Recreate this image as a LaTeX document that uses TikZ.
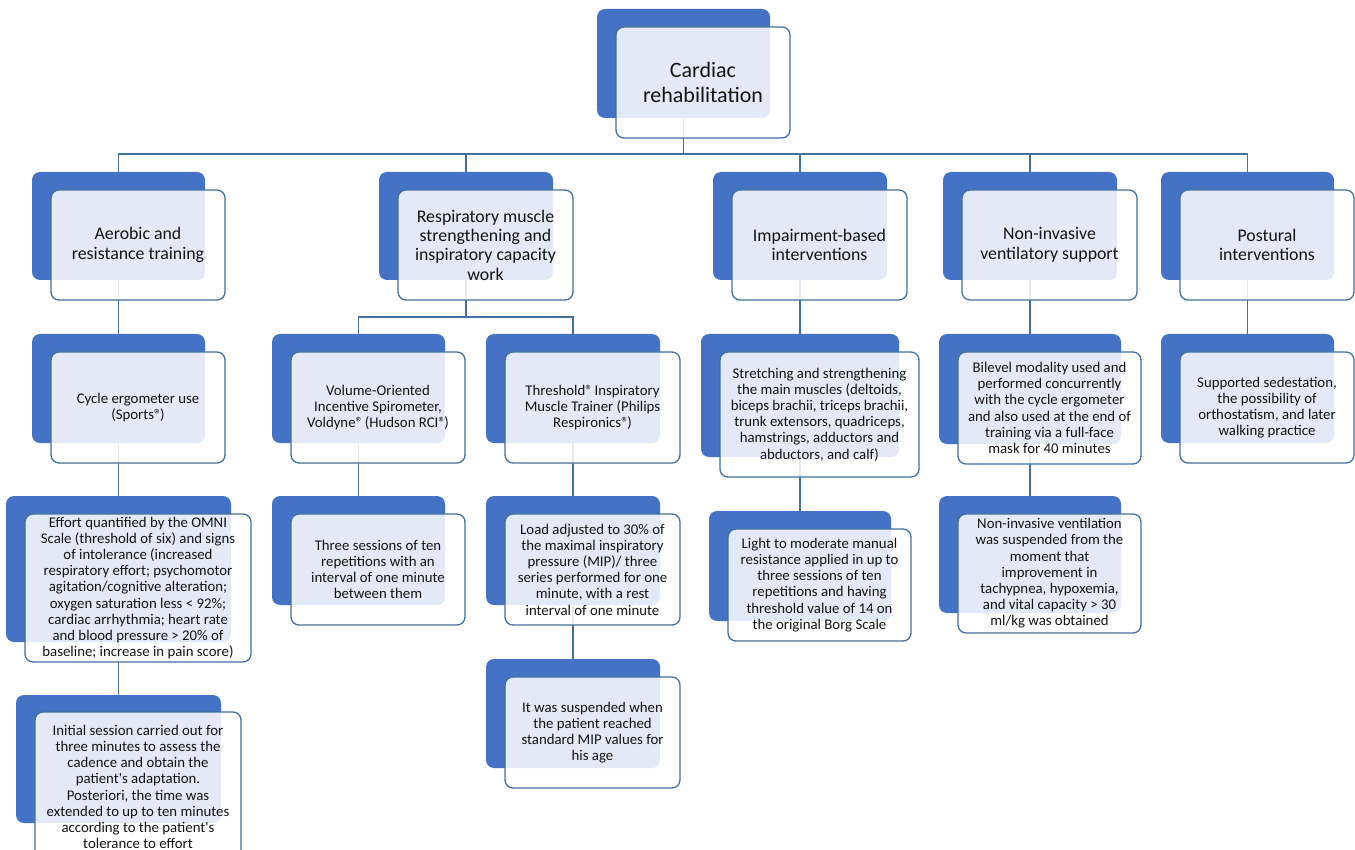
\documentclass[tikz,border=0pt]{standalone}
\usepackage{fontspec}
\setmainfont{Carlito}
\usetikzlibrary{calc}
\pgfdeclarelayer{background}
\pgfsetlayers{background,main}
\definecolor{backblue}{RGB}{68,114,196}
\definecolor{edgeblue}{RGB}{65,113,156}
\definecolor{txt}{RGB}{20,20,20}
\newcommand{\regd}{®\kern-1.5pt}
\tikzset{
  backbox/.style={rectangle, rounded corners=8pt, fill=backblue, draw=none, inner sep=0pt, outer sep=0pt},
  frontbox/.style={rectangle, rounded corners=8pt, draw=edgeblue, line width=1.3pt, fill=white, fill opacity=0.85, text opacity=1, text=txt, align=center, inner sep=1pt, outer sep=0pt},
  conn/.style={draw=edgeblue, line width=1.3pt},
  fbig/.style={font=\fontsize{22}{25.3}\selectfont},
  fmid/.style={font=\fontsize{17.8}{19.4}\selectfont},
  fsmall/.style={font=\fontsize{14.8}{16.2}\selectfont}
}
% [#1 extra front opts], #2 name, #3 bx1, #4 by1, #5 bx2, #6 by2, #7 font style, #8 text
\newcommand{\mkbox}[8][]{%
  \node[backbox, minimum width={#5-#3}, minimum height={#6-#4}] (#2b) at ({(#3+#5)/2},{(#4+#6)/2}) {};
  \node[frontbox, #7, minimum width={#5-#3+1}, minimum height={#6-#4+2}, #1] (#2) at ({(#3+#5)/2+19.5},{(#4+#6)/2+19}) {#8};
}
\begin{document}
\begin{tikzpicture}[x=1pt,y=-1pt]
\useasboundingbox (0,0) rectangle (1355,850);

% root
\mkbox{root}{597}{9}{770}{118}{fbig}{Cardiac\\rehabilitation}
% level 1
\mkbox{A1}{32}{172}{205}{280}{fmid}{Aerobic and\\resistance training}
\mkbox{A2}{379}{172}{553}{280}{fmid}{Respiratory muscle\\strengthening and\\inspiratory capacity\\work}
\mkbox{A3}{713}{172}{887}{280}{fmid}{Impairment-based\\interventions}
\mkbox{A4}{943}{172}{1117}{280}{fmid}{Non-invasive\\ventilatory support}
\mkbox{A5}{1161}{172}{1334}{280}{fmid}{Postural\\interventions}
% level 2
\mkbox{B1}{32}{334}{205}{443}{fsmall}{Cycle ergometer use\\(Sports\regd)}
\mkbox{B2}{272}{334}{445}{443}{fsmall}{Volume-Oriented\\Incentive Spirometer,\\Voldyne\regd{} (Hudson RCI\regd)}
\mkbox{B3}{486}{334}{660}{443}{fsmall}{Threshold\regd{} Inspiratory\\Muscle Trainer (Philips\\Respironics\regd)}
\mkbox{B4}{701}{334}{899}{457}{fsmall}{Stretching and strengthening\\the main muscles (deltoids,\\biceps brachii, triceps brachii,\\trunk extensors, quadriceps,\\hamstrings, adductors and\\abductors, and calf)}
\mkbox{B5}{939}{334}{1121}{444}{fsmall}{Bilevel modality used and\\performed concurrently\\with the cycle ergometer\\and also used at the end of\\training via a full-face\\mask for 40 minutes}
\mkbox{B6}{1161}{334}{1334}{443}{fsmall}{Supported sedestation,\\the possibility of\\orthostatism, and later\\walking practice}
% level 3
\mkbox{C1}{6}{496}{231}{642}{fsmall}{Effort quantified by the OMNI\\Scale (threshold of six) and signs\\of intolerance (increased\\respiratory effort; psychomotor\\agitation/cognitive alteration;\\oxygen saturation less < 92\%;\\cardiac arrhythmia; heart rate\\and blood pressure > 20\% of\\baseline; increase in pain score)}
\mkbox{C2}{272}{496}{445}{605}{fsmall}{Three sessions of ten\\repetitions with an\\interval of one minute\\between them}
\mkbox{C3}{486}{496}{660}{605}{fsmall}{Load adjusted to 30\% of\\the maximal inspiratory\\pressure (MIP)/ three\\series performed for one\\minute, with a rest\\interval of one minute}
\mkbox{C4}{709}{511}{891}{621}{fsmall}{Light to moderate manual\\resistance applied in up to\\three sessions of ten\\repetitions and having\\threshold value of 14 on\\the original Borg Scale}
\mkbox{C5}{939}{496}{1121}{613}{fsmall}{Non-invasive ventilation\\was suspended from the\\moment that\\improvement in\\tachypnea, hypoxemia,\\and vital capacity > 30\\ml/kg was obtained}
% level 4
\mkbox[minimum height=150, yshift=-9pt]{D1}{16}{695}{221}{823}{fsmall}{Initial session carried out for\\three minutes to assess the\\cadence and obtain the\\patient\textquotesingle s adaptation.\\Posteriori, the time was\\extended to up to ten minutes\\according to the patient\textquotesingle s\\tolerance to effort}
\mkbox{D2}{486}{659}{660}{768}{fsmall}{It was suspended when\\the patient reached\\standard MIP values for\\his age}

\coordinate (bus1) at (683.5,154);
\coordinate (bus2) at (466,317);
\begin{pgfonlayer}{background}
\fill[white] (0,0) rectangle (1355,850);
\draw[conn] (rootb.south) -- (bus1);
\draw[conn] (A1b.north) |- (bus1) -| (A5b.north);
\draw[conn] (A2b.north) -- (A2b.north |- bus1);
\draw[conn] (A3b.north) -- (A3b.north |- bus1);
\draw[conn] (A4b.north) -- (A4b.north |- bus1);
\draw[conn] (A1b.south) -- (B1b.north);
\draw[conn] (A2b.south) -- (bus2);
\draw[conn] (B2b.north) |- (bus2) -| (B3b.north);
\draw[conn] (A3b.south) -- (B4b.north);
\draw[conn] (A4b.south) -- (B5b.north);
\draw[conn] (A5b.south) -- (B6b.north);
\draw[conn] (B1b.south) -- (C1b.north);
\draw[conn] (B2b.south) -- (C2b.north);
\draw[conn] (B3b.south) -- (C3b.north);
\draw[conn] (B4b.south) -- (C4b.north);
\draw[conn] (B5b.south) -- (C5b.north);
\draw[conn] (C1b.south) -- (D1b.north);
\draw[conn] (C3b.south) -- (D2b.north);
\end{pgfonlayer}
\end{tikzpicture}
\end{document}
